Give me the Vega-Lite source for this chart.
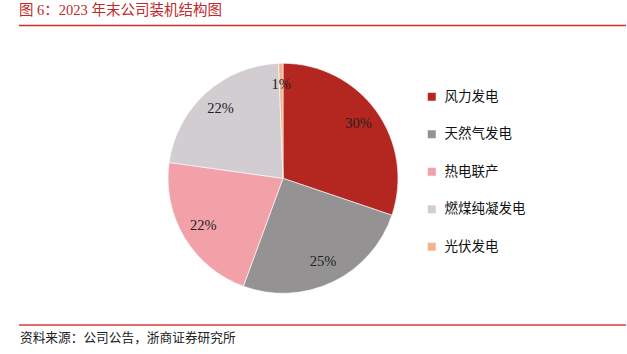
{
  "$schema": "https://vega.github.io/schema/vega-lite/v6.json",
  "autosize": {"type": "none"},
  "padding": {"left": 19, "top": 25, "right": 1, "bottom": 29},
  "width": 607,
  "height": 300,
  "background": "white",
  "config": {"view": {"stroke": null}},
  "title": {
    "text": "图 6：2023 年末公司装机结构图",
    "anchor": "start",
    "frame": "group",
    "offset": 6,
    "font": "Liberation Serif, Noto Sans CJK SC",
    "fontSize": 14.5,
    "fontWeight": "normal",
    "color": "#C0282A"
  },
  "layer": [
    {
      "data": {"values": [{"k": 1}]},
      "mark": {"type": "rule", "color": "#C8302E", "strokeWidth": 1.5},
      "encoding": {"x": {"value": 0}, "x2": {"value": "width"}, "y": {"value": 0.5}, "y2": {"value": 0.5}}
    },
    {
      "data": {"values": [{"k": 1}]},
      "mark": {"type": "rule", "color": "#D83A3A", "strokeWidth": 1.5},
      "encoding": {"x": {"value": 0}, "x2": {"value": "width"}, "y": {"value": "height"}}
    },
    {
      "data": {"values": [{"t": "资料来源：公司公告，浙商证券研究所"}]},
      "mark": {"type": "text", "align": "left", "baseline": "middle", "dy": 13, "dx": 1, "font": "Noto Sans CJK SC", "fontSize": 12.7, "color": "#222222"},
      "encoding": {"x": {"value": 0}, "y": {"value": "height"}, "text": {"field": "t"}}
    },
    {
      "data": {"name": "pie"},
      "mark": {"type": "arc", "outerRadius": 115, "xOffset": -39.5, "yOffset": 3.3, "stroke": "white", "strokeWidth": 0.6},
      "encoding": {
        "theta": {"field": "v", "type": "quantitative", "stack": true},
        "order": {"field": "idx", "type": "quantitative"},
        "color": {
          "field": "name",
          "type": "nominal",
          "sort": ["风力发电", "天然气发电", "热电联产", "燃煤纯凝发电", "光伏发电"],
          "scale": {
            "domain": ["风力发电", "天然气发电", "热电联产", "燃煤纯凝发电", "光伏发电"],
            "range": ["#B42620", "#949292", "#F2A1A9", "#D1CDD1", "#F2B48C"]
          },
          "legend": {
            "title": null,
            "orient": "none",
            "legendX": 406,
            "legendY": 65,
            "symbolType": "square",
            "symbolSize": 64,
            "symbolStrokeWidth": 0,
            "labelFont": "Noto Sans CJK SC",
            "labelFontSize": 13.5,
            "labelColor": "#111111",
            "labelOffset": 6,
            "rowPadding": 22.5
          }
        }
      }
    },
    {
      "data": {"name": "pie"},
      "mark": {"type": "text", "radius": 93, "xOffset": -39.5, "yOffset": 3.3, "font": "Liberation Serif", "fontSize": 14.5, "color": "#222222", "align": "center", "baseline": "middle"},
      "encoding": {
        "theta": {"field": "v", "type": "quantitative", "stack": true},
        "order": {"field": "idx", "type": "quantitative"},
        "detail": {"field": "name", "type": "nominal"},
        "text": {"field": "v", "type": "quantitative", "format": ".0%"}
      }
    }
  ],
  "datasets": {
    "pie": [
      {"idx": 1, "name": "风力发电", "v": 0.302},
      {"idx": 2, "name": "天然气发电", "v": 0.254},
      {"idx": 3, "name": "热电联产", "v": 0.216},
      {"idx": 4, "name": "燃煤纯凝发电", "v": 0.222},
      {"idx": 5, "name": "光伏发电", "v": 0.006}
    ]
  }
}
